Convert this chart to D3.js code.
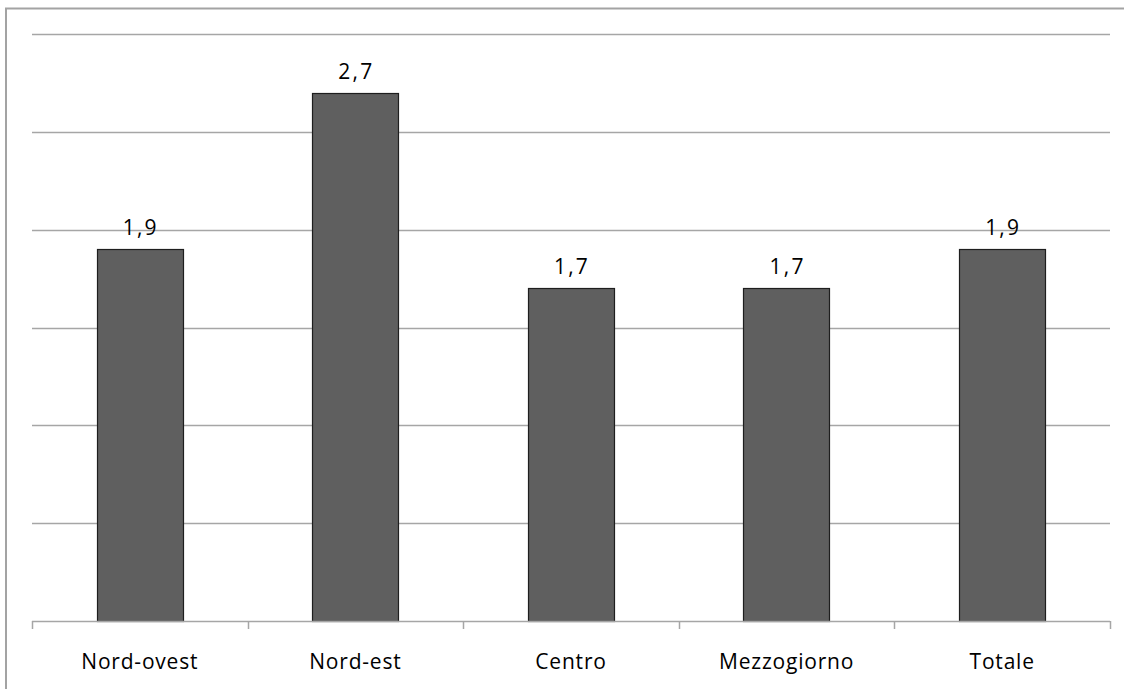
<!DOCTYPE html>
<html>
<head>
<meta charset="utf-8">
<script src="https://cdn.jsdelivr.net/npm/d3@7"></script>
<style>
  html, body { margin: 0; padding: 0; background: #fff; }
  svg { display: block; }
  text { font-family: "Open Sans", "DejaVu Sans", sans-serif; fill: #000; }
</style>
</head>
<body>
<svg id="chart" width="1124" height="689"></svg>
<script>
// Regional values (Italian decimal comma in labels)
const categories = ["Nord-ovest", "Nord-est", "Centro", "Mezzogiorno", "Totale"];
const values = [1.9, 2.7, 1.7, 1.7, 1.9];
const gridTicks = [0.5, 1.0, 1.5, 2.0, 2.5, 3.0];

const svg = d3.select("#chart");
const W = 1124, H = 689;
const margin = { left: 32, right: 14, top: 34, bottom: 68 };
const plotW = W - margin.left - margin.right;
const plotBottom = H - margin.bottom;

// Outer frame
svg.append("rect")
  .attr("x", 6).attr("y", 8.5)
  .attr("width", W + 10).attr("height", H + 10)
  .attr("fill", "none").attr("stroke", "#a3a3a3").attr("stroke-width", 2);

const x = d3.scaleBand()
  .domain(categories)
  .range([margin.left, margin.left + plotW])
  .paddingInner(0.6).paddingOuter(0.3);

const y = d3.scaleLinear()
  .domain([0, 3])
  .range([plotBottom, margin.top]);

// Horizontal gridlines
svg.append("g")
  .selectAll("line")
  .data(gridTicks)
  .join("line")
  .attr("x1", margin.left).attr("x2", margin.left + plotW)
  .attr("y1", d => Math.round(y(d)) + 0.5).attr("y2", d => Math.round(y(d)) + 0.5)
  .attr("stroke", "#a6a6a6").attr("stroke-width", 1.5);

// Bars
svg.append("g")
  .selectAll("rect")
  .data(values)
  .join("rect")
  .attr("x", (d, i) => Math.round(x(categories[i])) + 0.5)
  .attr("y", d => Math.round(y(d)) + 0.5)
  .attr("width", Math.round(x.bandwidth()))
  .attr("height", d => plotBottom - Math.round(y(d)))
  .attr("fill", "#5f5f5f")
  .attr("stroke", "#1e1e1e").attr("stroke-width", 1.2);

// Value labels
svg.append("g")
  .selectAll("text")
  .data(values)
  .join("text")
  .attr("x", (d, i) => x(categories[i]) + x.bandwidth() / 2 + 1)
  .attr("y", d => y(d) - 14)
  .attr("text-anchor", "middle")
  .attr("font-size", 21)
  .attr("letter-spacing", 2.2)
  .text(d => d.toFixed(1).replace(".", ","));

// Category axis with boundary ticks
const boundaries = d3.range(categories.length + 1).map(i => margin.left + i * plotW / categories.length);
const axis = svg.append("g");
axis.append("line")
  .attr("x1", margin.left).attr("x2", margin.left + plotW)
  .attr("y1", plotBottom + 0.5).attr("y2", plotBottom + 0.5)
  .attr("stroke", "#a6a6a6").attr("stroke-width", 1.5);
axis.selectAll("line.tick")
  .data(boundaries)
  .join("line")
  .attr("class", "tick")
  .attr("x1", d => Math.round(d) + 0.5).attr("x2", d => Math.round(d) + 0.5)
  .attr("y1", plotBottom).attr("y2", plotBottom + 8)
  .attr("stroke", "#a6a6a6").attr("stroke-width", 1.5);
axis.selectAll("text")
  .data(categories)
  .join("text")
  .attr("x", d => x(d) + x.bandwidth() / 2)
  .attr("y", plotBottom + 48)
  .attr("text-anchor", "middle")
  .attr("font-size", 21)
  .attr("letter-spacing", 0.8)
  .text(d => d);
</script>
</body>
</html>
